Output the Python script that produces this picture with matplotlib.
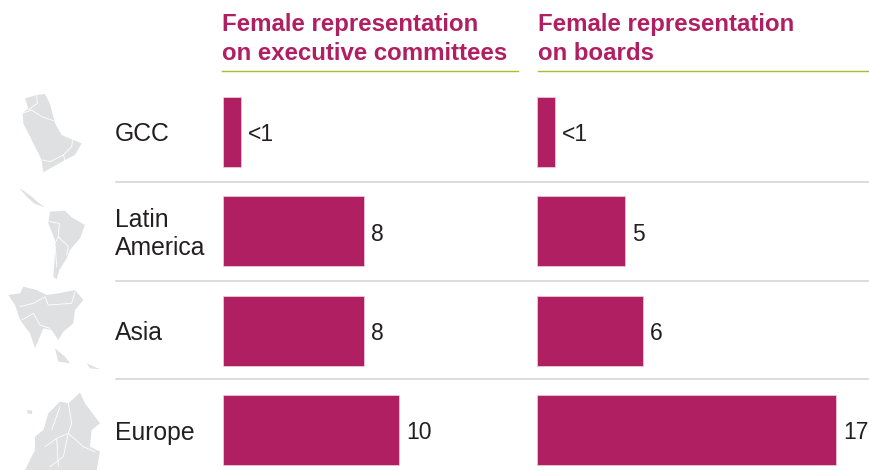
import matplotlib
matplotlib.use("Agg")
import matplotlib.pyplot as plt
from matplotlib.patches import Polygon

plt.rcParams['font.family'] = ['Liberation Sans', 'DejaVu Sans']

regions = ["GCC", "Latin\nAmerica", "Asia", "Europe"]
exec_values = [1, 8, 8, 10]
exec_labels = ["<1", "8", "8", "10"]
board_values = [1, 5, 6, 17]
board_labels = ["<1", "5", "6", "17"]
title_exec = "Female representation\non executive committees"
title_board = "Female representation\non boards"

MAGENTA = "#B01F62"
GREEN = "#A6C02C"
RULE = "#D2D2D2"
TEXT = "#231F20"
MAP = "#DEE0E2"

W, H = 870, 471
fig = plt.figure(figsize=(8.7, 4.71), dpi=100, facecolor="white")

bg = fig.add_axes([0, 0, 1, 1])
bg.set_xlim(0, W)
bg.set_ylim(H, 0)
bg.axis("off")


def zoomed(points, dy):
    return [(x / 3, y / 3 + dy) for x, y in points]


def land(points, dy):
    bg.add_patch(Polygon(zoomed(points, dy), closed=True, fc=MAP, ec="none", zorder=1))


def border(points, dy):
    pts = zoomed(points, dy)
    bg.plot([p[0] for p in pts], [p[1] for p in pts], color="white", lw=0.6, zorder=2)


# decorative maps
land([(75, 55), (110, 45), (135, 42), (150, 72), (160, 110), (165, 130), (185, 165), (215, 178),
      (245, 190), (225, 225), (195, 240), (130, 277), (125, 240), (100, 190), (70, 130), (68, 100), (85, 85)], 80)
border([(68, 100), (95, 90), (125, 110), (160, 122)], 80)
border([(110, 45), (112, 70), (85, 90)], 80)
border([(128, 240), (150, 245), (190, 225), (215, 200), (218, 175)], 80)
border([(190, 225), (195, 240)], 80)

land([(58, 325), (75, 335), (95, 350), (115, 368), (135, 382), (105, 372), (85, 355)], 80)
land([(150, 395), (195, 392), (215, 412), (255, 435), (240, 475), (210, 510), (200, 535),
      (178, 570), (170, 598), (160, 590), (165, 520), (165, 480), (145, 430)], 80)
border([(150, 425), (178, 430), (175, 470), (205, 500), (200, 525)], 80)
border([(175, 470), (165, 490), (170, 560)], 80)

land([(25, 75), (60, 70), (70, 50), (110, 60), (140, 75), (175, 70), (225, 60), (250, 90), (225, 120),
      (220, 160), (190, 185), (175, 210), (155, 180), (130, 175), (105, 235), (90, 190), (60, 150), (45, 105)], 270)
border([(60, 110), (100, 100), (135, 80), (145, 105), (215, 100), (225, 65)], 270)
border([(65, 150), (100, 130), (120, 165), (150, 175)], 270)
land([(165, 235), (195, 260), (210, 280), (175, 275)], 270)
land([(260, 280), (300, 298), (270, 295)], 270)

land([(240, 368), (255, 400), (300, 460), (275, 480), (270, 530), (300, 545), (290, 600),
      (75, 600), (105, 540), (105, 500), (130, 480), (145, 430), (180, 395), (205, 400)], 270)
land([(82, 420), (97, 422), (95, 432), (82, 430)], 270)
border([(205, 400), (215, 460), (205, 490), (250, 530), (285, 545)], 270)
border([(135, 530), (170, 505), (205, 490), (190, 560), (150, 590)], 270)
border([(170, 505), (175, 590)], 270)
border([(155, 480), (180, 410)], 270)

# row rules
for y in (182, 280.5, 379):
    bg.plot([116, W], [y, y], color=RULE, lw=1.1, zorder=1)

# header rules
bg.plot([222, 518], [71, 71], color=GREEN, lw=1.0)
bg.plot([538, W], [71, 71], color=GREEN, lw=1.0)


def panel(left_px, right_px, values, labels, title, title_x):
    ax = fig.add_axes([left_px / W, 0, (right_px - left_px) / W, (H - 72) / H])
    ax.patch.set_alpha(0)
    ax.set_xlim(0, (right_px - left_px) / 17.55)
    ax.set_ylim(3.413, -0.604)
    ax.axis("off")
    pos = range(len(values))
    ax.barh(list(pos), values, height=0.705, color=MAGENTA, edgecolor="#EBD3DF", linewidth=0.5)
    for i, v, lab in zip(pos, values, labels):
        ax.annotate(lab, (v, i), xytext=(5, -2), textcoords="offset points", va="center", ha="left",
                    fontsize=16.5, color=TEXT)
    fig.text(title_x / W, 1 - 13 / H, title, fontsize=17.3, fontweight="bold", color=MAGENTA,
             va="top", ha="left", linespacing=1.32)


panel(223.5, 518, exec_values, exec_labels, title_exec, 222)
panel(537.5, 870, board_values, board_labels, title_board, 538)

centers = [134, 234, 333, 433]
for name, y in zip(regions, centers):
    bg.text(115, y, name, fontsize=17.8, color=TEXT, va="center", ha="left", linespacing=1.18)

fig.savefig("out.png", dpi=100)
